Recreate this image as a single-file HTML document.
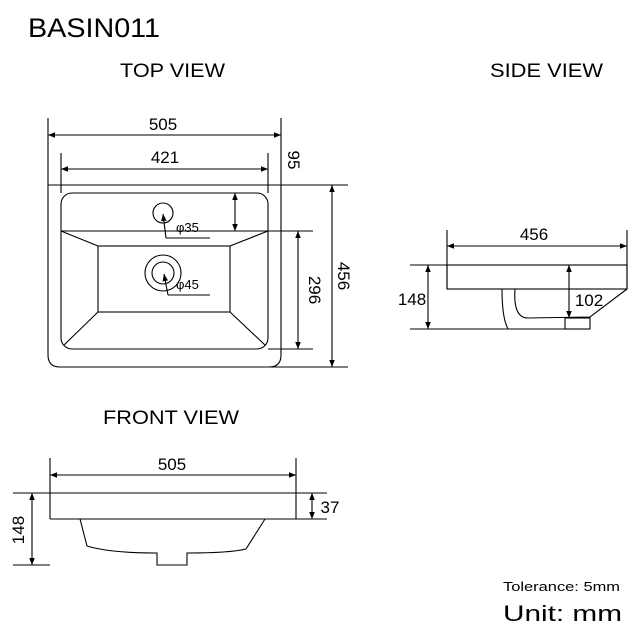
<!DOCTYPE html>
<html><head><style>html,body{margin:0;padding:0;background:#fff}svg{display:block}</style></head>
<body>
<svg width="640" height="640" viewBox="0 0 640 640" xmlns="http://www.w3.org/2000/svg" font-family="Liberation Sans, Arial, sans-serif">
<defs>
<marker id="a" viewBox="0 0 10 10" refX="10" refY="5" markerWidth="9" markerHeight="7" orient="auto-start-reverse" markerUnits="userSpaceOnUse"><path d="M0,1 L10,5 L0,9 z" fill="#000"/></marker>
</defs>
<g fill="#000">
<text x="28" y="37" font-size="27" textLength="132" lengthAdjust="spacingAndGlyphs">BASIN011</text>
<text x="120" y="77" font-size="19" textLength="105" lengthAdjust="spacingAndGlyphs">TOP VIEW</text>
<text x="490" y="77" font-size="19" textLength="113" lengthAdjust="spacingAndGlyphs">SIDE VIEW</text>
<text x="103" y="424" font-size="19" textLength="136" lengthAdjust="spacingAndGlyphs">FRONT VIEW</text>
<text x="503" y="591" font-size="13" textLength="117" lengthAdjust="spacingAndGlyphs">Tolerance: 5mm</text>
<text x="503" y="621" font-size="22" textLength="119" lengthAdjust="spacingAndGlyphs">Unit:  mm</text>
</g>
<g fill="none" stroke="#000" stroke-width="1.1">
<line x1="48" y1="118" x2="48" y2="355"/>
<line x1="281" y1="118" x2="281" y2="355"/>
<path d="M48,355 Q48,367 60,367 L348,367"/>
<path d="M281,355 Q281,367 269,367"/>
<line x1="48" y1="135" x2="281" y2="135" marker-start="url(#a)" marker-end="url(#a)"/>
<line x1="61" y1="153" x2="61" y2="193"/>
<line x1="268" y1="153" x2="268" y2="193"/>
<line x1="61" y1="169" x2="268" y2="169" marker-start="url(#a)" marker-end="url(#a)"/>
<line x1="48" y1="185" x2="348" y2="185"/>
<rect x="61" y="193" width="207" height="156" rx="11"/>
<line x1="61" y1="231" x2="313" y2="231"/>
<rect x="98" y="246" width="132" height="66"/>
<line x1="61" y1="231" x2="98" y2="246"/>
<line x1="268" y1="231" x2="230" y2="246"/>
<line x1="98" y1="312" x2="64" y2="345"/>
<line x1="230" y1="312" x2="265" y2="345"/>
<line x1="268" y1="349" x2="313" y2="349"/>
<circle cx="163" cy="213" r="10"/>
<circle cx="163" cy="273" r="18"/>
<circle cx="163" cy="273" r="11"/>
<polyline points="166,238 210,238"/>
<line x1="166" y1="238" x2="163" y2="214" marker-end="url(#a)"/>
<polyline points="168,295 210,295"/>
<line x1="168" y1="295" x2="164" y2="274" marker-end="url(#a)"/>
<line x1="235" y1="193" x2="235" y2="231" marker-start="url(#a)" marker-end="url(#a)"/>
<line x1="298" y1="231" x2="298" y2="349" marker-start="url(#a)" marker-end="url(#a)"/>
<line x1="332" y1="185" x2="332" y2="367" marker-start="url(#a)" marker-end="url(#a)"/>
<line x1="447" y1="230" x2="447" y2="289"/>
<line x1="627" y1="230" x2="627" y2="289"/>
<line x1="447" y1="246" x2="627" y2="246" marker-start="url(#a)" marker-end="url(#a)"/>
<line x1="410" y1="265" x2="627" y2="265"/>
<rect x="447" y="265" width="180" height="24"/>
<line x1="410" y1="329" x2="590" y2="329"/>
<line x1="428" y1="265" x2="428" y2="329" marker-start="url(#a)" marker-end="url(#a)"/>
<line x1="569" y1="265" x2="569" y2="318" marker-start="url(#a)" marker-end="url(#a)"/>
<path d="M502,289 Q502,318 508,329"/>
<path d="M515,289 Q513,318 528,318 L590,317 L627,289"/>
<rect x="565" y="318" width="25" height="11"/>
<line x1="50" y1="458" x2="50" y2="519"/>
<line x1="296" y1="458" x2="296" y2="519"/>
<line x1="50" y1="475" x2="296" y2="475" marker-start="url(#a)" marker-end="url(#a)"/>
<line x1="13" y1="493" x2="327" y2="493"/>
<line x1="50" y1="519" x2="327" y2="519"/>
<line x1="13" y1="565" x2="50" y2="565"/>
<line x1="32" y1="493" x2="32" y2="565" marker-start="url(#a)" marker-end="url(#a)"/>
<line x1="312" y1="493" x2="312" y2="519" marker-start="url(#a)" marker-end="url(#a)"/>
<path d="M80,519 L87,546 Q110,553 157,553 L157,565 L187,565 L187,553 Q230,553 246,549 L265,519"/>
</g>
<g fill="#000" font-size="17">
<text x="163" y="130" text-anchor="middle">505</text>
<text x="165" y="163" text-anchor="middle">421</text>
<text x="176" y="232" font-size="13">φ35</text>
<text x="176" y="289" font-size="13">φ45</text>
<text transform="translate(288,160) rotate(90)" text-anchor="middle">95</text>
<text transform="translate(309,290) rotate(90)" text-anchor="middle">296</text>
<text transform="translate(338,276) rotate(90)" text-anchor="middle">456</text>
<text x="534" y="240" text-anchor="middle">456</text>
<text x="412" y="305" text-anchor="middle">148</text>
<text x="589" y="306" text-anchor="middle">102</text>
<text x="172" y="470" text-anchor="middle">505</text>
<text x="330" y="513" text-anchor="middle">37</text>
<text transform="translate(24,530) rotate(-90)" text-anchor="middle">148</text>
</g>
</svg>
</body></html>
